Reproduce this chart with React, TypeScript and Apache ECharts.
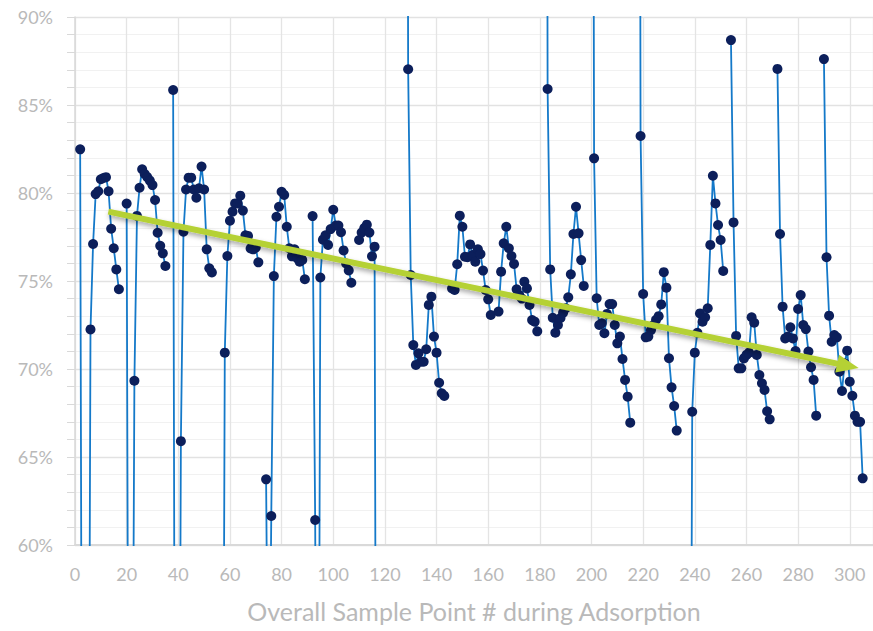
import React, { useEffect, useRef } from "react";
import * as echarts from "echarts";

// Each adsorption run: first sample number, then 16 readings (%). Values below 60 or above 90 are off-chart estimates.
const runStarts = [2, 20, 38, 56, 74, 92, 110, 128, 146, 164, 182, 200, 218, 236, 254, 272, 290];

const run01 = [82.48, 28, 20, 30, 72.25, 77.1, 79.94, 80.1, 80.78, 80.85, 80.9, 80.1, 77.97, 76.86, 75.66, 74.53];
const run02 = [79.4, 30, 38, 69.33, 78.7, 80.3, 81.35, 81.08, 80.9, 80.7, 80.45, 79.6, 77.74, 77.0, 76.57, 75.85];
const run03 = [85.85, 25, 30, 65.9, 77.8, 80.2, 80.87, 80.87, 80.2, 79.73, 80.27, 81.5, 80.2, 76.8, 75.72, 75.49];
const run04 = [25, 30, 70.93, 76.42, 78.43, 78.94, 79.41, 79.41, 79.85, 79.0, 77.6, 77.56, 76.85, 76.8, 76.9, 76.06];
const run05 = [63.73, 45, 61.65, 75.28, 78.65, 79.22, 80.07, 79.89, 78.08, 76.86, 76.4, 76.8, 76.3, 76.1, 76.2, 75.1];
const run06 = [78.69, 61.42, 30, 75.2, 77.35, 77.6, 77.05, 77.95, 79.05, 78.15, 78.15, 77.77, 76.74, 76.0, 75.6, 74.9];
const run07 = [77.33, 77.75, 78.0, 78.2, 77.75, 76.4, 76.95, 20];
const run08 = [160, 87.03, 75.34, 71.36, 70.23, 70.89, 70.41, 70.41, 71.12, 73.64, 74.11, 71.84, 70.93, 69.22, 68.62, 68.47];
const run09 = [74.58, 74.49, 75.95, 78.71, 78.08, 76.38, 76.35, 77.08, 76.48, 76.1, 76.8, 76.53, 75.59, 74.49, 73.96, 73.07];
const run10 = [73.26, 75.53, 77.14, 78.08, 76.86, 76.42, 75.97, 74.53, 74.2, 74.0, 74.96, 74.58, 73.64, 72.78, 72.69, 72.14];
const run11 = [170, 85.91, 75.66, 72.91, 72.06, 72.5, 72.9, 73.2, 73.45, 74.07, 75.38, 77.67, 79.22, 77.71, 76.19, 74.72];
const run12 = [150, 81.97, 74.02, 72.5, 72.6, 72.03, 73.13, 73.69, 73.69, 72.5, 71.46, 71.84, 70.57, 69.38, 68.43, 66.95];
const run13 = [160, 83.24, 74.26, 71.8, 71.84, 72.2, 72.5, 72.8, 73.0, 73.67, 75.5, 74.62, 70.61, 68.96, 67.9, 66.5];
const run14 = [25, 20, 30, 67.57, 70.93, 72.06, 73.16, 72.69, 72.94, 73.45, 77.05, 80.98, 79.41, 78.18, 77.33, 75.57];
const run15 = [88.69, 78.33, 71.88, 70.04, 70.04, 70.6, 70.8, 70.93, 72.94, 72.63, 70.8, 69.66, 69.19, 68.81, 67.6, 67.14];
const run16 = [87.05, 77.67, 73.54, 71.74, 71.84, 72.37, 71.74, 71.02, 73.41, 74.2, 72.5, 72.27, 70.99, 70.1, 69.38, 67.35];
const run17 = [87.61, 76.35, 73.03, 71.55, 71.93, 71.8, 69.85, 68.75, 70.32, 71.04, 69.28, 68.48, 67.35, 67.0, 67.0, 63.79];

const runs = [run01, run02, run03, run04, run05, run06, run07, run08, run09, run10, run11, run12, run13, run14, run15, run16, run17];

// Trend arrow end points [sample #, %]
const trendStart = [12.9, 78.94];
const trendEnd = [299.3, 70.18];

const xAxisName = "Overall Sample Point # during Adsorption";

const FONT = "Lato, 'Open Sans', 'DejaVu Sans', sans-serif";
const LABEL_COLOR = "#b9b9b9";

export default function App() {
  const ref = useRef<HTMLDivElement>(null);

  useEffect(() => {
    if (!ref.current) return;
    const chart = echarts.init(ref.current, null, { renderer: "svg" });

    const lineData: any[] = [];
    runs.forEach((vals, k) => {
      if (k > 0) lineData.push([runStarts[k] - 1, "-"]);
      vals.forEach((v, j) => lineData.push([runStarts[k] + j, v]));
    });

    chart.setOption({
      animation: false,
      backgroundColor: "#ffffff",
      grid: { left: 75, right: 0, top: 17, bottom: 86 },
      xAxis: {
        type: "value",
        min: 0,
        max: 309,
        interval: 20,
        name: xAxisName,
        nameLocation: "middle",
        nameGap: 53,
        nameTextStyle: { color: LABEL_COLOR, fontSize: 25, fontFamily: FONT },
        axisLabel: { color: LABEL_COLOR, fontSize: 18, fontFamily: FONT, margin: 20, showMaxLabel: false },
        axisLine: { show: true, onZero: false, lineStyle: { color: "#d9d9d9", width: 2 } },
        axisTick: { show: false },
        splitLine: { show: true, lineStyle: { color: "#e4e4e4", width: 1.3 } },
      },
      yAxis: {
        type: "value",
        min: 60,
        max: 90,
        interval: 5,
        axisLabel: { formatter: "{value}%", color: LABEL_COLOR, fontSize: 18, fontFamily: FONT, margin: 22 },
        axisLine: { show: true, onZero: false, lineStyle: { color: "#d9d9d9", width: 1.5 } },
        axisTick: { show: true, length: 8, lineStyle: { color: "#d9d9d9" } },
        minorTick: { show: true, splitNumber: 5, length: 8, lineStyle: { color: "#d9d9d9" } },
        splitLine: { show: true, lineStyle: { color: "#e2e2e2", width: 1.3 } },
        minorSplitLine: { show: true, lineStyle: { color: "#f1f1f1", width: 1 } },
      },
      series: [
        {
          type: "line",
          name: "trend",
          data: [trendStart, trendEnd],
          symbol: "none",
          lineStyle: { opacity: 0 },
          silent: true,
          z: 2,
          markLine: {
            silent: true,
            symbol: ["none", "triangle"],
            symbolSize: [18, 22],
            label: { show: false },
            emphasis: { disabled: true },
            lineStyle: {
              color: "#b5d134",
              width: 6,
              type: "solid",
              opacity: 1,
              shadowColor: "rgba(0,0,0,0.35)",
              shadowBlur: 5,
              shadowOffsetX: 1,
              shadowOffsetY: 3,
            },
            data: [[{ coord: trendStart }, { coord: trendEnd }]],
          },
        },
        {
          type: "line",
          name: "samples",
          data: lineData,
          symbol: "circle",
          symbolSize: 10,
          showAllSymbol: true,
          connectNulls: false,
          clip: true,
          lineStyle: { color: "#1479c9", width: 1.8 },
          itemStyle: { color: "#0c1f5b" },
          z: 3,
        },
      ],
    });

    return () => chart.dispose();
  }, []);

  return (
    <div
      ref={ref}
      style={{ position: "fixed", left: 0, top: 0, width: 873, height: 631, background: "#fff" }}
    />
  );
}
